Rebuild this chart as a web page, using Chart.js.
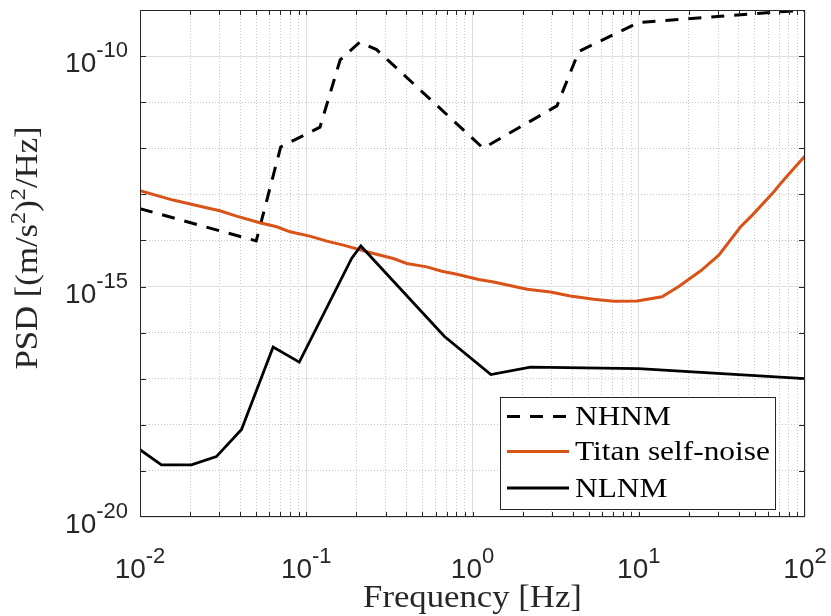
<!DOCTYPE html>
<html>
<head>
<meta charset="utf-8">
<title>Seismic noise models and Titan self-noise</title>
<script src="https://cdn.jsdelivr.net/npm/chart.js@4/dist/chart.umd.min.js"></script>
<style>
  html, body { margin: 0; padding: 0; background: #ffffff; }
  #wrap { width: 831px; height: 616px; position: relative; }
</style>
</head>
<body>
<div id="wrap"><canvas id="psd" width="831" height="616"></canvas></div>
<script>
// Peterson high noise model, acceleration PSD [(m/s^2)^2/Hz]
const nhnmFreq = [0.01, 0.05, 0.0702, 0.121, 0.160, 0.210, 0.265, 1.16, 3.22, 4.36, 10, 100];
const nhnmPsd  = [4.90e-14, 9.77e-15, 1.07e-12, 2.88e-12, 8.32e-11, 2.00e-10, 1.38e-10,
                  1.00e-12, 8.32e-12, 1.26e-10, 5.37e-10, 1.00e-9];

// Titan accelerometer self-noise
const titanFreq = [0.01, 0.0158, 0.0251, 0.0302, 0.0381, 0.0526, 0.0664, 0.0798, 0.105, 0.133,
                   0.167, 0.254, 0.334, 0.403, 0.531, 0.655, 0.805, 1.09, 1.34, 2.13,
                   2.94, 3.88, 5.36, 7.06, 9.77, 13.8, 17.4, 23.6, 30.3, 41.0,
                   48.2, 65.0, 71.4, 84.0, 100];
const titanPsd  = [1.20e-13, 7.52e-14, 5.12e-14, 4.40e-14, 3.37e-14, 2.42e-14, 1.98e-14, 1.54e-14, 1.24e-14, 9.66e-15,
                   7.91e-15, 5.21e-15, 4.06e-15, 3.16e-15, 2.67e-15, 2.15e-15, 1.85e-15, 1.42e-15, 1.26e-15, 8.73e-16,
                   7.64e-16, 6.25e-16, 5.30e-16, 4.79e-16, 4.86e-16, 6.00e-16, 1.00e-15, 2.20e-15, 4.79e-15, 1.98e-14,
                   3.55e-14, 1.14e-13, 1.73e-13, 3.37e-13, 6.81e-13];

// Peterson low noise model
const nlnmFreq = [0.01, 0.01346, 0.0204, 0.0288, 0.0408, 0.0632, 0.0908, 0.1875, 0.213, 0.676, 1.29, 2.23, 10, 100];
const nlnmPsd  = [2.88e-19, 1.35e-19, 1.35e-19, 2.04e-19, 7.94e-19, 4.90e-17, 2.29e-17, 4.07e-15, 7.59e-15,
                  8.32e-17, 1.23e-17, 1.78e-17, 1.66e-17, 1.00e-17];

const seriesNames = ['NHNM', 'Titan self-noise', 'NLNM'];
const xTickExponents = [-2, -1, 0, 1, 2];
const yTickExponents = [-20, -15, -10];
const xLimits = [1e-2, 1e2];
const yLimits = [1e-20, 1e-9];
const xAxisTitle = 'Frequency [Hz]';
const yAxisTitleRuns = [
  { t: 'PSD [(m/s', sup: false }, { t: '2', sup: true }, { t: ')', sup: false },
  { t: '2', sup: true }, { t: '/Hz]', sup: false }
];

const ORANGE = '#D95319';
const INK = '#262626';
const SERIF_STRETCH = 1.12;

// grid positions: every 1..9 x 10^n on x, every decade on y
const xGridValues = [];
for (let n = -2; n <= 1; n++) for (let m = 1; m <= 9; m++) xGridValues.push(Number((m * Math.pow(10, n)).toPrecision(6)));
xGridValues.push(100);
const yGridValues = [];
for (let n = -20; n <= -9; n++) yGridValues.push(Number('1e' + n));

const isDecade = v => Math.abs(Math.log10(v) - Math.round(Math.log10(v))) < 1e-6;
const isYMajor = v => isDecade(v) && Math.round(Math.log10(v)) % 5 === 0;

const pts = (fs, ps) => fs.map((f, i) => ({ x: f, y: ps[i] }));

function serifFont(size) { return size + 'px "Liberation Serif", "Times New Roman", serif'; }
function sansFont(size) { return size + 'px "Liberation Sans", Arial, Helvetica, sans-serif'; }

// draws a sequence of serif text runs (with optional superscripts) centred on cx
function drawSerifRuns(ctx, runs, size, cx, baseY, align) {
  ctx.textAlign = 'left';
  ctx.textBaseline = 'alphabetic';
  const sizes = runs.map(r => r.sup ? size * 0.7 : size);
  const widths = runs.map((r, i) => { ctx.font = serifFont(sizes[i]); return ctx.measureText(r.t).width * SERIF_STRETCH; });
  const total = widths.reduce((a, b) => a + b, 0);
  let x0 = align === 'left' ? cx : cx - total / 2;
  runs.forEach((r, i) => {
    ctx.save();
    ctx.font = serifFont(sizes[i]);
    ctx.translate(x0, baseY - (r.sup ? size * 0.4 : 0));
    ctx.scale(SERIF_STRETCH, 1);
    ctx.fillText(r.t, 0, 0);
    ctx.restore();
    x0 += widths[i];
  });
  return total;
}

// power-of-ten label: "10" with a raised exponent
function powerLabel(ctx, exp, anchorX, baseY, mode) {
  const baseSize = 28, expSize = 22;
  ctx.textAlign = 'left';
  ctx.textBaseline = 'alphabetic';
  ctx.font = sansFont(baseSize);
  const wb = ctx.measureText('10').width;
  ctx.font = sansFont(expSize);
  const es = String(exp);
  const we = ctx.measureText(es).width;
  const total = wb + we;
  const x0 = mode === 'right' ? anchorX - total : anchorX - total / 2;
  ctx.font = sansFont(baseSize);
  ctx.fillText('10', x0, baseY);
  ctx.font = sansFont(expSize);
  ctx.fillText(es, x0 + wb, baseY - 15);
}

const axesFrame = {
  id: 'axesFrame',
  afterDatasetsDraw(chart) {
    const { ctx, chartArea: a, scales: { x, y } } = chart;
    ctx.save();
    ctx.strokeStyle = INK;
    ctx.lineWidth = 1;
    const clampX = p => Math.min(Math.max(p, a.left + 0.5), a.right - 0.5);
    const clampY = p => Math.min(Math.max(p, a.top + 0.5), a.bottom - 0.5);
    ctx.beginPath();
    for (const v of xGridValues) {
      const px = clampX(Math.round(x.getPixelForValue(v)) + 0.5);
      ctx.moveTo(px, a.bottom); ctx.lineTo(px, a.bottom - 5);
      ctx.moveTo(px, a.top); ctx.lineTo(px, a.top + 5);
    }
    for (const v of yGridValues) {
      const py = clampY(Math.round(y.getPixelForValue(v)) + 0.5);
      ctx.moveTo(a.left, py); ctx.lineTo(a.left + 6, py);
      ctx.moveTo(a.right, py); ctx.lineTo(a.right - 6, py);
    }
    ctx.stroke();
    ctx.strokeRect(a.left + 0.5, a.top + 0.5, a.width - 1, a.height - 1);
    ctx.restore();
  },
  afterDraw(chart) {
    const { ctx, chartArea: a, scales: { x, y } } = chart;
    ctx.save();
    ctx.fillStyle = INK;
    // tick labels
    for (const e of xTickExponents) powerLabel(ctx, e, x.getPixelForValue(Math.pow(10, e)), 578, 'center');
    for (const e of yTickExponents) powerLabel(ctx, e, a.left - 12, y.getPixelForValue(Number('1e' + e)) + 16, 'right');
    // axis titles
    drawSerifRuns(ctx, [{ t: xAxisTitle, sup: false }], 31, (a.left + a.right) / 2, 607);
    ctx.save();
    ctx.translate(37, 248);
    ctx.rotate(-Math.PI / 2);
    drawSerifRuns(ctx, yAxisTitleRuns, 31, 0, 0);
    ctx.restore();

    // legend
    const box = { l: 500, t: 397, r: 776, b: 510 };
    ctx.fillStyle = '#ffffff';
    ctx.fillRect(box.l, box.t, box.r - box.l, box.b - box.t);
    ctx.strokeStyle = INK;
    ctx.lineWidth = 1;
    ctx.strokeRect(box.l + 0.5, box.t + 0.5, box.r - box.l - 1, box.b - box.t - 1);
    const rows = [416.5, 451.5, 488];
    chart.data.datasets.forEach((ds, i) => {
      const yy = rows[i];
      ctx.save();
      ctx.strokeStyle = ds.borderColor;
      ctx.lineWidth = ds.borderWidth;
      ctx.setLineDash(ds.borderDash || []);
      ctx.lineCap = 'butt';
      ctx.beginPath();
      ctx.moveTo(507, yy); ctx.lineTo(569, yy);
      ctx.stroke();
      ctx.restore();
      ctx.fillStyle = '#000000';
      drawSerifRuns(ctx, [{ t: ds.label, sup: false }], 28, 575, yy + 8.5, 'left');
    });
    ctx.restore();
  }
};

new Chart(document.getElementById('psd'), {
  type: 'line',
  data: {
    datasets: [
      { label: seriesNames[0], data: pts(nhnmFreq, nhnmPsd), borderColor: '#000000', borderWidth: 3,
        borderDash: [13, 10], borderCapStyle: 'butt', order: 2 },
      { label: seriesNames[1], data: pts(titanFreq, titanPsd), borderColor: ORANGE, borderWidth: 3, order: 1 },
      { label: seriesNames[2], data: pts(nlnmFreq, nlnmPsd), borderColor: '#000000', borderWidth: 2.8, order: 0 }
    ]
  },
  options: {
    responsive: false,
    devicePixelRatio: 1,
    animation: false,
    events: [],
    layout: { padding: { left: 140, top: 10, right: 26, bottom: 99 } },
    elements: { point: { radius: 0 }, line: { tension: 0, fill: false } },
    plugins: { legend: { display: false }, tooltip: { enabled: false }, title: { display: false } },
    scales: {
      x: {
        type: 'logarithmic', position: 'bottom', min: xLimits[0], max: xLimits[1],
        afterBuildTicks: s => { s.ticks = xGridValues.map(v => ({ value: v })); },
        afterFit: s => { s.height = 0; },
        ticks: { display: false },
        grid: {
          drawTicks: false,
          color: c => (c.tick && isDecade(c.tick.value)) ? '#dedede' : '#c4c4c4',
          lineWidth: 1
        },
        border: { display: false, dash: c => (c.tick && !isDecade(c.tick.value)) ? [1, 2] : [] }
      },
      y: {
        type: 'logarithmic', position: 'left', min: yLimits[0], max: yLimits[1],
        afterBuildTicks: s => { s.ticks = yGridValues.map(v => ({ value: v })); },
        afterFit: s => { s.width = 0; },
        ticks: { display: false },
        grid: {
          drawTicks: false,
          color: c => (c.tick && isYMajor(c.tick.value)) ? '#dedede' : '#c4c4c4',
          lineWidth: 1
        },
        border: { display: false, dash: c => (c.tick && !isYMajor(c.tick.value)) ? [1, 2] : [] }
      }
    }
  },
  plugins: [axesFrame]
});
</script>
</body>
</html>
